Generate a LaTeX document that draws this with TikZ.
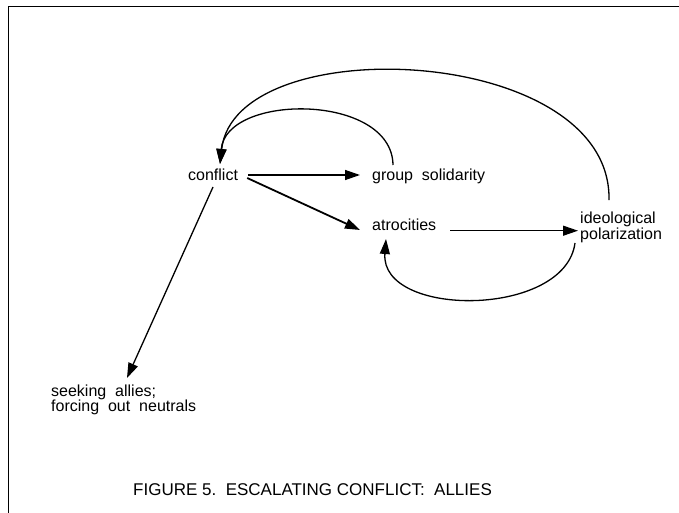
\documentclass[tikz,border=0pt]{standalone}
\usepackage{fontspec}
\setmainfont{Liberation Sans}
\usetikzlibrary{arrows.meta}
\begin{document}
\begin{tikzpicture}[x=1pt,y=-1pt,
  lbl/.style={inner sep=0pt, font=\fontsize{16}{14.2}\selectfont, align=left},
  captext/.style={inner sep=0pt, font=\fontsize{17}{17}\selectfont},
  link/.style={line width=1.3pt, -{Triangle[length=15pt,width=10pt]}},
  boldlink/.style={link, line width=1.8pt},
]
\useasboundingbox (0,0) rectangle (679,513);
% open frame: top and left edges
\draw[line width=1pt] (8,513) -- (8,7) -- (679,7);

% variables
\node[lbl, anchor=base west] (conf) at (188,180) {conflict};
\node[lbl, anchor=base west] (grp)  at (372,180) {group~~solidarity};
\node[lbl, anchor=base west] (atro) at (372,230) {atrocities};
\node[lbl, anchor=north west] (ideo) at (580,211.5) {ideological\\polarization};
\node[lbl, anchor=north west, font=\fontsize{16}{15}\selectfont] (seek) at (51,385)
  {seeking~~allies;\\forcing~~out~~neutrals};
\node[captext, anchor=base west] (title) at (133,495)
  {FIGURE 5.~~ESCALATING CONFLICT:~~ALLIES};

% causal links
\draw[link] ([shift={(10,-5)}]conf.base east) -- ([shift={(-12,-5)}]grp.base west);
\draw[boldlink] ([shift={(9,-2)}]conf.base east) -- ([shift={(-12,0)}]atro.base west);
\draw[link] ([shift={(14,0.7)}]atro.base east) -- ([shift={(-2,19.2)}]ideo.north west);
\draw[link] ([shift={(25,7)}]conf.base west) -- ([shift={(76,-7)}]seek.north west);

% feedback loops
\draw[link] ([shift={(-5,31.5)}]ideo.north west)
  .. controls +(-10,75) and +(-6,79) .. ([shift={(14,9)}]atro.base west);
\draw[link] ([shift={(21,-15)}]grp.base west)
  .. controls +(-1,-72) and +(6,-71) .. ([shift={(32,-16)}]conf.base west);
\draw[link] ([shift={(29,-11.5)}]ideo.north west)
  .. controls +(3,-156) and +(15,-136) .. ([shift={(32,-16)}]conf.base west);
\end{tikzpicture}
\end{document}
